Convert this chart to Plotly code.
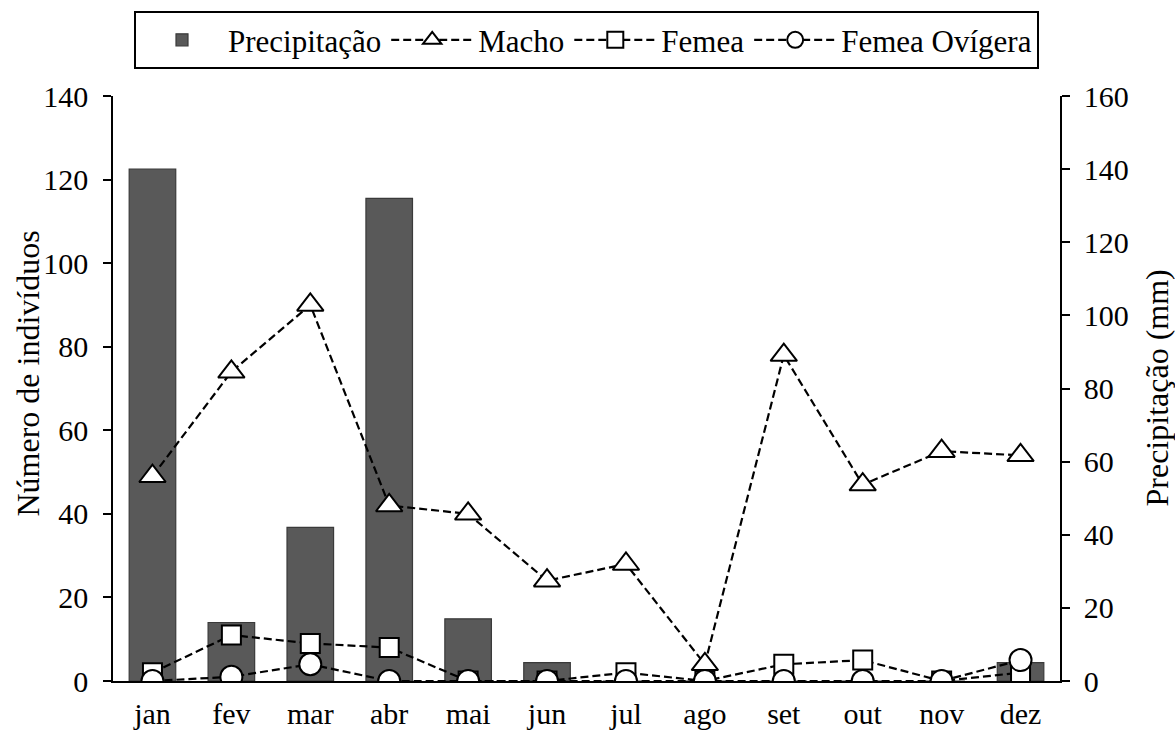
import plotly.graph_objects as go

months = ['jan', 'fev', 'mar', 'abr', 'mai', 'jun', 'jul', 'ago', 'set', 'out', 'nov', 'dez']
precipitacao = [140, 16, 42, 132, 17, 5, 0, 0, 0, 0, 0, 5]
macho = [49, 74, 90, 42, 40, 24, 28, 4, 78, 47, 55, 54]
femea = [2, 11, 9, 8, 0, 0, 2, 0, 4, 5, 0, 2]
femea_ovigera = [0, 1, 4, 0, 0, 0, 0, 0, 0, 0, 0, 5]

left_ticks = [0, 20, 40, 60, 80, 100, 120, 140]
right_ticks = [0, 20, 40, 60, 80, 100, 120, 140, 160]

FONT = "Liberation Serif, Times New Roman, serif"
FS = 30
dash = "8px,4px"

fig = go.Figure()
fig.add_trace(go.Bar(
    x=months, y=precipitacao, name="Precipitação", yaxis="y",
    marker=dict(color="#595959", line=dict(color="#3a3a3a", width=1.2)),
    width=0.59,
))
fig.add_trace(go.Scatter(
    x=months, y=macho, name="Macho", yaxis="y2", mode="lines+markers",
    line=dict(color="black", width=2.2, dash=dash),
    marker=dict(symbol="triangle-up", size=23, color="white", line=dict(color="black", width=2)),
))
fig.add_trace(go.Scatter(
    x=months, y=femea, name="Femea", yaxis="y2", mode="lines+markers",
    line=dict(color="black", width=2.2, dash=dash),
    marker=dict(symbol="square", size=19, color="white", line=dict(color="black", width=2)),
))
fig.add_trace(go.Scatter(
    x=months, y=femea_ovigera, name="Femea Ovígera", yaxis="y2", mode="lines+markers",
    line=dict(color="black", width=2.2, dash=dash),
    marker=dict(symbol="circle", size=22, color="white", line=dict(color="black", width=2)),
))

fig.update_layout(
    width=1175, height=733,
    margin=dict(l=113, r=115, t=96, b=52, autoexpand=False),
    paper_bgcolor="white", plot_bgcolor="white",
    font=dict(family=FONT, size=FS, color="black"),
    showlegend=True,
    legend=dict(
        orientation="h", x=0.5, xanchor="center", y=1.145, yanchor="top",
        bordercolor="black", borderwidth=2, bgcolor="white",
        font=dict(family=FONT, size=31), itemwidth=82, tracegroupgap=0,
    ),
    xaxis=dict(
        type="category", range=[-0.5, 11.5], showline=True, linecolor="black", linewidth=1.5,
        ticks="", showgrid=False, tickfont=dict(size=FS), zeroline=False,
        ticklabelstandoff=5, automargin=False,
    ),
    yaxis=dict(
        side="right", range=[0, 160], tickvals=right_ticks, showline=True, linecolor="black",
        linewidth=1.5, ticks="outside", ticklen=8, tickwidth=1.5, tickcolor="black",
        showgrid=False, zeroline=False, ticklabelstandoff=8, automargin=False,
    ),
    yaxis2=dict(
        side="left", overlaying="y", range=[0, 140], tickvals=left_ticks, showline=True,
        linecolor="black", linewidth=1.5, ticks="outside", ticklen=8, tickwidth=1.5,
        tickcolor="black", showgrid=False, zeroline=False, ticklabelstandoff=9,
        automargin=False,
    ),
    annotations=[
        dict(text="Número de indivíduos", textangle=-90, xref="paper", yref="paper",
             x=0, y=0.5, xanchor="center", yanchor="middle", xshift=-86, yshift=15,
             showarrow=False, font=dict(family=FONT, size=32)),
        dict(text="Precipitação (mm)", textangle=-90, xref="paper", yref="paper",
             x=1, y=0.5, xanchor="center", yanchor="middle", xshift=96,
             showarrow=False, font=dict(family=FONT, size=32)),
    ],
)

fig.write_html("out.html")
